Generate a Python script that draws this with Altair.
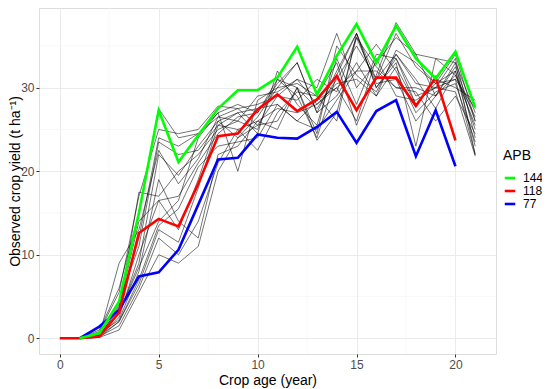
import altair as alt
import pandas as pd

# ---- data ----
green_144 = [0, 0.6, 4.4, 15.0, 27.3, 21.1, 24.3, 27.5, 29.7, 29.7, 31.2, 34.9, 29.2, 33.8, 37.6, 33.0, 37.4, 33.5, 31.1, 34.3, 27.6]  # ages 1..21
red_118 = [0, 0, 0.2, 3.1, 12.6, 14.3, 13.4, 18.5, 24.2, 24.5, 27.4, 29.2, 27.2, 28.6, 31.4, 27.3, 31.2, 31.2, 27.8, 31.2, 23.7]  # ages 0..20
blue_77 = [0, 1.4, 3.4, 7.4, 7.9, 10.6, 16.0, 21.4, 21.6, 24.4, 24.0, 23.9, 25.3, 27.1, 23.4, 27.2, 28.5, 21.8, 27.3, 20.6]  # ages 1..20

# other APB series (ages 1..21)
others = [
    [0, 1.0, 6.0, 15.0, 27.5, 24.0, 24.5, 27.0, 28.0, 27.0, 30.5, 33.0, 27.0, 32.0, 36.5, 31.0, 34.0, 30.5, 30.0, 33.5, 24.0],
    [0, 0.8, 5.5, 17.0, 25.0, 24.5, 25.0, 27.8, 27.5, 28.0, 29.0, 31.0, 30.0, 36.5, 30.0, 33.0, 36.0, 34.0, 29.0, 32.5, 26.0],
    [0, 0.5, 4.0, 12.0, 24.0, 23.0, 24.5, 26.5, 26.0, 25.0, 31.0, 29.0, 24.0, 31.5, 36.5, 30.0, 33.5, 28.0, 30.5, 31.0, 22.0],
    [0, 0.6, 4.5, 11.0, 23.5, 22.0, 22.5, 25.5, 27.0, 27.5, 28.0, 26.0, 28.5, 30.0, 32.0, 35.2, 32.0, 27.0, 29.5, 30.5, 23.5],
    [0, 0.3, 3.0, 9.0, 22.0, 19.5, 23.0, 26.0, 24.0, 26.5, 30.0, 30.5, 29.0, 33.0, 25.5, 31.5, 37.8, 34.0, 33.5, 33.0, 27.0],
    [0, 0.4, 3.5, 17.5, 17.0, 20.0, 22.0, 25.0, 26.0, 29.0, 29.5, 31.0, 28.0, 30.5, 31.0, 29.0, 34.5, 33.0, 30.5, 32.0, 25.0],
    [0, 0.2, 2.5, 10.0, 16.5, 17.0, 21.0, 24.5, 26.5, 27.0, 31.0, 30.0, 23.7, 27.0, 36.0, 30.5, 31.0, 26.0, 29.0, 33.0, 22.0],
    [0, 0.5, 3.0, 8.5, 14.0, 16.5, 24.0, 27.0, 20.0, 28.5, 30.0, 33.0, 27.0, 29.0, 33.0, 29.0, 32.5, 28.0, 31.0, 30.0, 28.5],
    [0, 0.1, 2.0, 7.0, 13.5, 15.5, 20.5, 23.0, 23.5, 24.0, 28.0, 26.0, 25.0, 28.5, 32.0, 32.0, 30.0, 29.5, 26.0, 29.0, 24.5],
    [0, 0.3, 2.0, 6.5, 13.0, 11.5, 18.0, 25.5, 25.0, 22.5, 27.0, 29.5, 29.0, 26.0, 36.5, 30.0, 33.0, 23.0, 33.5, 31.5, 26.5],
    [0, 0.2, 1.5, 6.0, 12.0, 10.0, 14.0, 21.0, 25.0, 26.0, 27.5, 27.0, 28.0, 30.0, 26.0, 33.5, 29.0, 28.5, 30.0, 31.0, 27.5],
    [0, 0.1, 1.0, 5.5, 10.0, 9.0, 11.0, 20.0, 24.0, 25.5, 26.0, 30.0, 24.5, 35.0, 31.5, 29.5, 34.0, 31.0, 27.5, 32.0, 23.0],
    [0, 0.4, 9.0, 13.0, 22.5, 18.5, 21.5, 26.5, 27.5, 25.5, 29.0, 28.5, 31.0, 29.5, 36.0, 32.5, 30.0, 30.0, 29.0, 31.5, 25.5],
    [0, 0.6, 2.2, 8.0, 19.0, 14.0, 12.0, 22.0, 23.0, 26.0, 25.0, 30.0, 27.5, 31.0, 35.0, 31.0, 36.5, 32.5, 30.5, 34.0, 26.0],
    [0, 0.2, 3.8, 14.0, 16.5, 13.0, 19.0, 26.0, 27.0, 24.5, 32.0, 28.0, 25.5, 33.5, 28.0, 34.0, 33.5, 29.0, 30.0, 29.5, 21.8],
]

apb_labels = ["144", "118", "77"]
apb_colors = ["#00FF00", "#FF0000", "#0000FF"]
x_minor = [2.5, 7.5, 12.5, 17.5]
y_minor = [5, 15, 25, 35]

# ---- tables ----
rows = []
for i, s in enumerate(others):
    for k, v in enumerate(s):
        rows.append({"age": k + 1, "yield": v, "id": f"s{i}"})
df_other = pd.DataFrame(rows)

rows = []
for k, v in enumerate(blue_77):
    rows.append({"age": k + 1, "yield": v, "APB": "77", "ord": 0})
for k, v in enumerate(red_118):
    rows.append({"age": k, "yield": v, "APB": "118", "ord": 1})
for k, v in enumerate(green_144):
    rows.append({"age": k + 1, "yield": v, "APB": "144", "ord": 2})
df_col = pd.DataFrame(rows)

font = "Liberation Sans"
xs = alt.Scale(domain=[-1.05, 22.05], nice=False, zero=False)
ys = alt.Scale(domain=[-1.88, 39.54], nice=False, zero=False)

xaxis = alt.Axis(values=[0, 5, 10, 15, 20], title="Crop age (year)", grid=True,
                 gridColor="#EBEBEB", gridWidth=1, domain=False, tickColor="#333333",
                 tickSize=3, labelColor="#4D4D4D", labelFontSize=12, labelPadding=2,
                 titleFontSize=14, titleFontWeight="normal", titleColor="#000000",
                 titlePadding=3, labelFont=font, titleFont=font)
yaxis = alt.Axis(values=[0, 10, 20, 30], title="Observed crop yield (t ha⁻¹)", grid=True,
                 gridColor="#EBEBEB", gridWidth=1, domain=False, tickColor="#333333",
                 tickSize=3, labelColor="#4D4D4D", labelFontSize=12, labelPadding=2,
                 titleFontSize=14, titleFontWeight="normal", titleColor="#000000",
                 titleX=-24, titleY=173, titleBaseline="middle", titleAngle=270,
                 labelFont=font, titleFont=font)

vminor = alt.Chart(pd.DataFrame({"v": x_minor})).mark_rule(color="#F3F3F3", strokeWidth=0.6).encode(
    x=alt.X("v:Q", scale=xs, axis=xaxis))
hminor = alt.Chart(pd.DataFrame({"v": y_minor})).mark_rule(color="#F3F3F3", strokeWidth=0.6).encode(
    y=alt.Y("v:Q", scale=ys, axis=yaxis))

black = alt.Chart(df_other).mark_line(color="black", strokeWidth=0.55).encode(
    x=alt.X("age:Q", scale=xs),
    y=alt.Y("yield:Q", scale=ys),
    detail="id:N",
)

colored = alt.Chart(df_col).mark_line(strokeWidth=2.6).encode(
    x=alt.X("age:Q", scale=xs),
    y=alt.Y("yield:Q", scale=ys),
    color=alt.Color("APB:N", scale=alt.Scale(domain=apb_labels, range=apb_colors),
                    legend=alt.Legend(title="APB", orient="none", legendX=464, legendY=141,
                                      symbolType="stroke", symbolStrokeWidth=2.6, symbolSize=110,
                                      titleFontSize=14, titleFontWeight="normal", titleFont=font,
                                      labelFont=font, labelFontSize=12, labelColor="#000000",
                                      titleColor="#000000", titlePadding=8, rowPadding=0,
                                      labelOffset=6)),
    order=alt.Order("ord:Q"),
)

chart = alt.layer(vminor, hminor, black, colored).properties(
    width=457, height=346,
    autosize=alt.AutoSizeParams(type="none"),
    padding={"left": 31, "top": 0, "right": 46, "bottom": 35},
).configure_view(stroke="#7F7F7F", strokeWidth=1.2).configure(background="white")

chart.save("out.html", embed_options={"renderer": "svg", "actions": False})
